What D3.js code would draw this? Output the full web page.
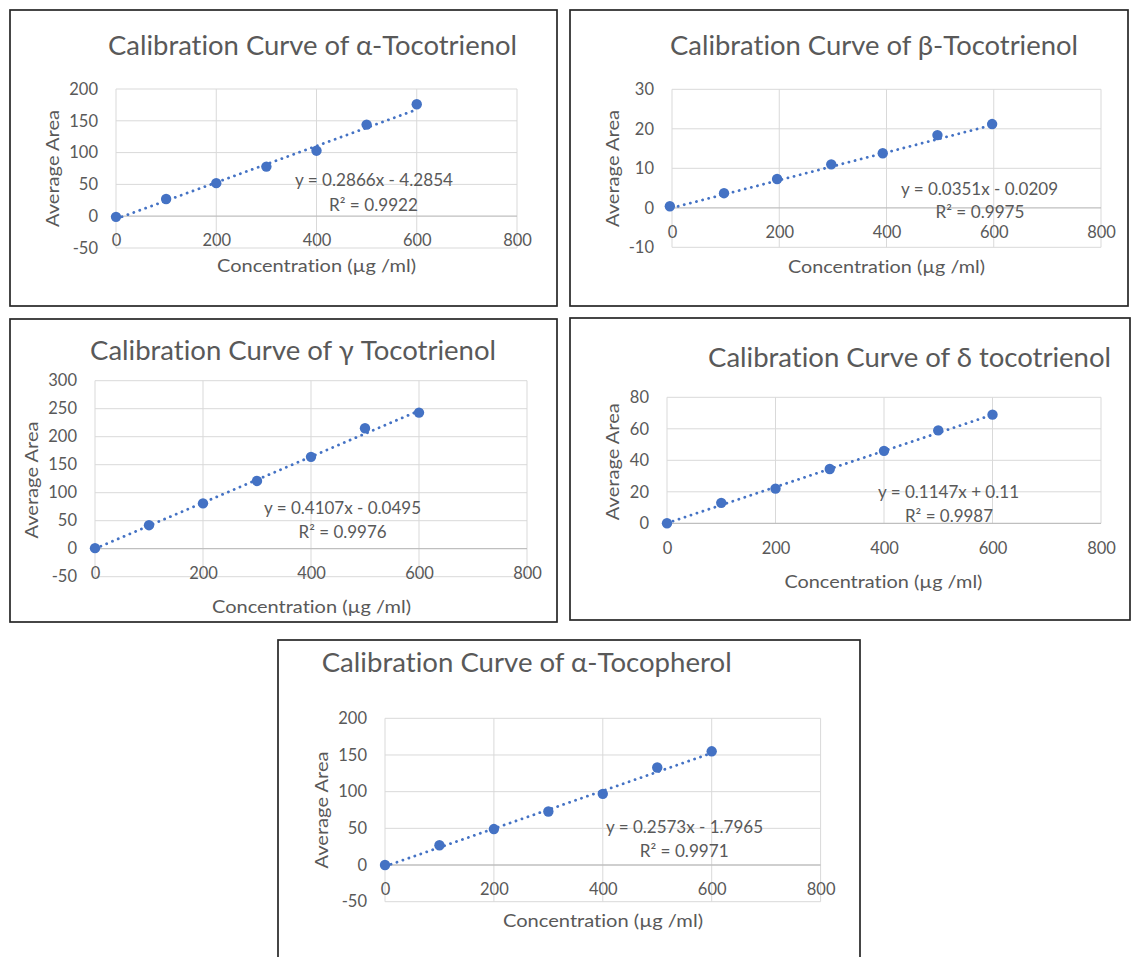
<!DOCTYPE html>
<html><head><meta charset="utf-8">
<script src="https://cdn.jsdelivr.net/npm/d3@7"></script>
<style>body{margin:0;background:#fff}svg{display:block}text{font-family:Lato,"Open Sans",sans-serif;font-variant-ligatures:none;font-feature-settings:"liga" 0,"clig" 0}</style>
</head><body><svg id="c" width="1133" height="957"></svg>
<script>
// ---------- data ----------
const concentrations = [0, 100, 200, 300, 400, 500, 600];
const betaConcentrations = [-4, 97, 196, 297, 393, 495, 597];
const titles = [
  "Calibration Curve of α-Tocotrienol",
  "Calibration Curve of β-Tocotrienol",
  "Calibration Curve of γ Tocotrienol",
  "Calibration Curve of δ tocotrienol",
  "Calibration Curve of α-Tocopherol"
];
const alphaT3Area = [-1, 27, 52, 78, 103, 144, 176];
const betaT3Area = [0.4, 3.7, 7.3, 11.0, 13.8, 18.4, 21.2];
const gammaT3Area = [1, 42, 81, 121, 164, 215, 243];
const deltaT3Area = [0, 13, 22, 34.5, 46, 59, 69];
const alphaTocArea = [0, 27, 49, 73, 97, 133, 155];
const equations = ["y = 0.2866x - 4.2854", "y = 0.0351x - 0.0209", "y = 0.4107x - 0.0495", "y = 0.1147x + 0.11", "y = 0.2573x - 1.7965"];
const r2Labels = ["R² = 0.9922", "R² = 0.9975", "R² = 0.9976", "R² = 0.9987", "R² = 0.9971"];
const trendX = [0, 600];
const trendAlphaT3 = [-4.29, 167.7];
const trendBetaT3 = [-0.02, 21.04];
const trendGammaT3 = [-0.05, 246.4];
const trendDeltaT3 = [0.11, 68.9];
const trendAlphaToc = [-1.8, 152.6];
const xTicks = [0, 200, 400, 600, 800];
const yTicksAlphaT3 = [-50, 0, 50, 100, 150, 200];
const yTicksBetaT3 = [-10, 0, 10, 20, 30];
const yTicksGammaT3 = [-50, 0, 50, 100, 150, 200, 250, 300];
const yTicksDeltaT3 = [0, 20, 40, 60, 80];
const yTicksAlphaToc = [-50, 0, 50, 100, 150, 200];
const xAxisTitle = "Concentration (µg /ml)";
const yAxisTitle = "Average Area";

const series = [
  {x: concentrations, y: alphaT3Area, trend: trendAlphaT3, yTicks: yTicksAlphaT3},
  {x: betaConcentrations, y: betaT3Area, trend: trendBetaT3, yTicks: yTicksBetaT3},
  {x: concentrations, y: gammaT3Area, trend: trendGammaT3, yTicks: yTicksGammaT3},
  {x: concentrations, y: deltaT3Area, trend: trendDeltaT3, yTicks: yTicksDeltaT3},
  {x: concentrations, y: alphaTocArea, trend: trendAlphaToc, yTicks: yTicksAlphaToc}
];

// ---------- layout ----------
const layout = [
  {box:[10,10,557,306], px:[116,517], py:[248,89], title:{x:108,y:55,w:409}, eq:{x:295,y:186,w:158}, r2:{x:329,y:211,w:89}, xt:{x:217,y:272,w:199}, yt:{x:59,cy:168.5,w:117}},
  {box:[570,10,1128,306], px:[672,1101], py:[247.3,89.3], title:{x:670,y:55,w:408}, eq:{x:901,y:195,w:157}, r2:{x:935.5,y:218.3,w:89}, xt:{x:788,y:272.7,w:197}, yt:{x:619,cy:168.5,w:117}},
  {box:[10,319,557,622], px:[95,527], py:[576.7,380.7], title:{x:90,y:360,w:406}, eq:{x:264,y:514,w:157}, r2:{x:298.6,y:538.3,w:88}, xt:{x:212,y:613,w:199}, yt:{x:37.8,cy:480,w:117}},
  {box:[570,318,1130,620], px:[667,1101], py:[523.3,397.3], title:{x:708,y:366.7,w:403}, eq:{x:878,y:498.3,w:141}, r2:{x:905,y:521.7,w:88}, xt:{x:784.4,y:588,w:198}, yt:{x:619,cy:461.7,w:117}},
  {box:[278,640,860,960], px:[385,820.6], py:[901.7,718.3], title:{x:321.7,y:671.7,w:410}, eq:{x:606,y:833.3,w:157}, r2:{x:639.7,y:856.7,w:89}, xt:{x:503,y:926.7,w:200}, yt:{x:327.5,cy:810,w:117}}
];

const BLUE = "#4472C4", TXT = "#595959", GRID = "#d9d9d9", AXIS = "#bfbfbf";
const svg = d3.select("#c");
const fmt = d => String(d);

series.forEach((s, i) => {
  const L = layout[i];
  const g = svg.append("g");
  const yExt = d3.extent(s.yTicks);
  const x = d3.scaleLinear().domain([0, 800]).range(L.px);
  const y = d3.scaleLinear().domain(yExt).range(L.py);

  // frame
  g.append("rect").attr("x", L.box[0]).attr("y", L.box[1])
    .attr("width", L.box[2] - L.box[0]).attr("height", L.box[3] - L.box[1])
    .attr("fill", "#fff").attr("stroke", "#262626").attr("stroke-width", 1.7);

  // gridlines
  g.selectAll(".hg").data(s.yTicks.filter(t => t !== 0)).join("line")
    .attr("x1", L.px[0]).attr("x2", L.px[1]).attr("y1", d => y(d)).attr("y2", d => y(d))
    .attr("stroke", GRID).attr("stroke-width", 1);
  g.selectAll(".vg").data(xTicks).join("line")
    .attr("y1", L.py[0]).attr("y2", L.py[1]).attr("x1", d => x(d)).attr("x2", d => x(d))
    .attr("stroke", GRID).attr("stroke-width", 1);
  g.append("line").attr("x1", L.px[0]).attr("x2", L.px[1]).attr("y1", y(0)).attr("y2", y(0))
    .attr("stroke", AXIS).attr("stroke-width", 1.3);

  // y axis labels
  const ya = g.append("g").attr("transform", `translate(${L.px[0]},0)`)
    .call(d3.axisLeft(y).tickValues(s.yTicks).tickSize(0).tickPadding(18).tickFormat(fmt));
  ya.select(".domain").remove();
  ya.selectAll("text").attr("fill", TXT).style("font-size", "16.5px").style("font-family", "Lato");

  // x axis labels (next to y=0 axis)
  const xa = g.append("g").attr("transform", `translate(0,${y(0)})`)
    .call(d3.axisBottom(x).tickValues(xTicks).tickSize(0).tickPadding(18.5).tickFormat(fmt));
  xa.select(".domain").remove();
  xa.selectAll("text").attr("fill", TXT).style("font-size", "16.5px").style("font-family", "Lato");

  // trendline
  g.append("line")
    .attr("x1", x(trendX[0])).attr("y1", y(s.trend[0]))
    .attr("x2", x(trendX[1])).attr("y2", y(s.trend[1]))
    .attr("stroke", BLUE).attr("stroke-width", 2.8)
    .attr("stroke-dasharray", "0.1 6.2").attr("stroke-linecap", "round");

  // points
  g.selectAll(".pt").data(s.y.map((v, k) => [s.x[k], v])).join("circle")
    .attr("cx", d => x(d[0])).attr("cy", d => y(d[1])).attr("r", 5.2).attr("fill", BLUE);

  // texts
  const txt = (o, str, size) => g.append("text").attr("x", o.x).attr("y", o.y)
    .attr("fill", TXT).style("font-size", size + "px")
    .attr("textLength", o.w).attr("lengthAdjust", "spacingAndGlyphs").text(str);
  txt(L.title, titles[i], 27.5);
  txt(L.eq, equations[i], 16.5);
  txt(L.r2, r2Labels[i], 16.5);
  txt(L.xt, xAxisTitle, 16.5);
  g.append("text")
    .attr("transform", `translate(${L.yt.x},${L.yt.cy}) rotate(-90)`)
    .attr("x", -L.yt.w / 2).attr("y", 0)
    .attr("fill", TXT).style("font-size", "16.5px")
    .attr("textLength", L.yt.w).attr("lengthAdjust", "spacingAndGlyphs").text(yAxisTitle);
});
</script></body></html>
